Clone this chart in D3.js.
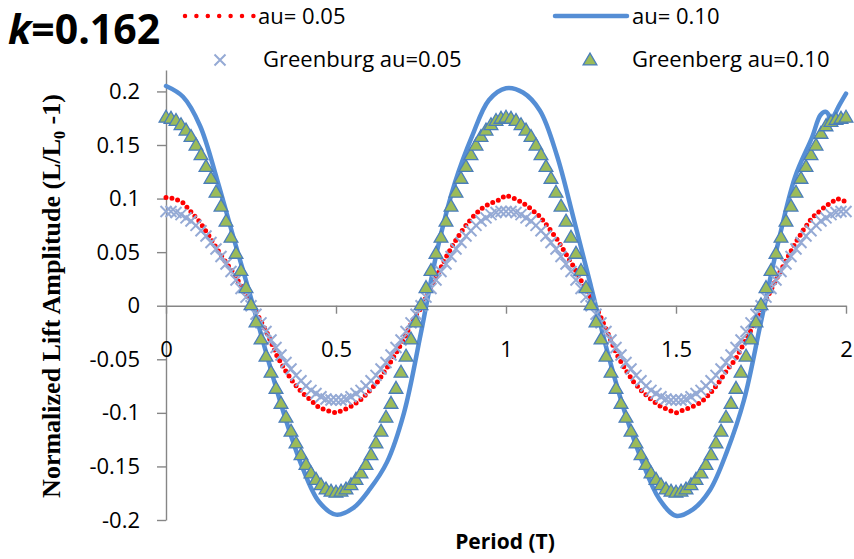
<!DOCTYPE html>
<html>
<head>
<meta charset="utf-8">
<script src="https://d3js.org/d3.v7.min.js"></script>
<style>
    body { margin: 0; background: #fff; }
    svg text { font-family: "Open Sans", sans-serif; fill: #000; }
</style>
</head>
<body>
<div id="liftChart"></div>
<script>
// tick values
const xTicks = [0, 0.5, 1, 1.5, 2];
const yTicks = [-0.2, -0.15, -0.1, -0.05, 0, 0.05, 0.1, 0.15, 0.2];

// measured lift, au = 0.05 (red dotted), one value every 0.025 T
const measured05 = [
    0.101, 0.100, 0.096, 0.087, 0.078, 0.066, 0.053, 0.041, 0.030, 0.016,
    0.003, -0.012, -0.027, -0.046, -0.060, -0.072, -0.081, -0.088, -0.095, -0.098,
    -0.100, -0.097, -0.093, -0.087, -0.079, -0.070, -0.058, -0.045, -0.031, -0.014,
    -0.002, 0.015, 0.030, 0.046, 0.060, 0.072, 0.082, 0.090, 0.095, 0.098,
    0.103, 0.100, 0.096, 0.090, 0.083, 0.073, 0.062, 0.049, 0.036, 0.021,
    0.007, -0.008, -0.026, -0.045, -0.059, -0.071, -0.080, -0.087, -0.093, -0.097,
    -0.100, -0.097, -0.094, -0.090, -0.082, -0.072, -0.060, -0.050, -0.035, -0.020,
    -0.005, 0.012, 0.028, 0.043, 0.058, 0.071, 0.082, 0.089, 0.095, 0.100,
    0.097
];

// measured lift, au = 0.10 (blue line)
const measured10T = [
    0, 0.05, 0.1, 0.15, 0.2, 0.25, 0.3, 0.35, 0.4, 0.45,
    0.5, 0.55, 0.6, 0.65, 0.7, 0.75, 0.8, 0.85, 0.9, 0.95,
    1.0, 1.05, 1.1, 1.15, 1.2, 1.25, 1.3, 1.35, 1.4, 1.45,
    1.5, 1.55, 1.6, 1.65, 1.7, 1.75, 1.8, 1.85, 1.9, 1.925,
    1.94, 1.95, 1.945, 1.96, 1.98, 2.0
];
const measured10 = [
    0.205, 0.195, 0.168, 0.118, 0.062, 0.007, -0.050, -0.104, -0.150, -0.183,
    -0.195, -0.189, -0.171, -0.146, -0.100, -0.025, 0.055, 0.115, 0.158, 0.192,
    0.203, 0.199, 0.182, 0.140, 0.080, 0.018, -0.045, -0.100, -0.145, -0.180,
    -0.196, -0.190, -0.172, -0.136, -0.088, -0.015, 0.058, 0.120, 0.157, 0.178,
    0.181, 0.177, 0.170, 0.175, 0.187, 0.198
];

// Greenberg theory, one value every 1/68 T
const greenburg05 = [
    0.088, 0.088, 0.087, 0.085, 0.082, 0.079, 0.075, 0.070, 0.065, 0.059, 0.053, 0.046, 0.039, 0.032, 0.024, 0.016, 0.008,
    0,
    -0.008, -0.016, -0.024, -0.032, -0.039, -0.046, -0.053, -0.059, -0.065, -0.070, -0.075, -0.079, -0.082, -0.085, -0.087, -0.088,
    -0.088,
    -0.088, -0.087, -0.085, -0.082, -0.079, -0.075, -0.070, -0.065, -0.059, -0.053, -0.046, -0.039, -0.032, -0.024, -0.016, -0.008,
    0,
    0.008, 0.016, 0.024, 0.032, 0.039, 0.046, 0.053, 0.059, 0.065, 0.070, 0.075, 0.079, 0.082, 0.085, 0.087, 0.088,
    0.088, 0.088, 0.087, 0.085, 0.082, 0.079, 0.075, 0.070, 0.065, 0.059, 0.053, 0.046, 0.039, 0.032, 0.024, 0.016, 0.008,
    0,
    -0.008, -0.016, -0.024, -0.032, -0.039, -0.046, -0.053, -0.059, -0.065, -0.070, -0.075, -0.079, -0.082, -0.085, -0.087, -0.088,
    -0.088,
    -0.088, -0.087, -0.085, -0.082, -0.079, -0.075, -0.070, -0.065, -0.059, -0.053, -0.046, -0.039, -0.032, -0.024, -0.016, -0.008,
    0,
    0.008, 0.016, 0.024, 0.032, 0.039, 0.046, 0.053, 0.059, 0.065, 0.070, 0.075, 0.079, 0.082, 0.085, 0.087, 0.088,
    0.088
];
const greenberg10 = [
    0.175, 0.174, 0.172, 0.168, 0.163, 0.157, 0.149, 0.140, 0.129, 0.118, 0.105, 0.092, 0.078, 0.063, 0.048, 0.032, 0.016,
    0,
    -0.016, -0.032, -0.048, -0.063, -0.078, -0.092, -0.105, -0.118, -0.129, -0.140, -0.149, -0.157, -0.163, -0.168, -0.172, -0.174,
    -0.175,
    -0.174, -0.172, -0.168, -0.163, -0.157, -0.149, -0.140, -0.129, -0.118, -0.105, -0.092, -0.078, -0.063, -0.048, -0.032, -0.016,
    0,
    0.016, 0.032, 0.048, 0.063, 0.078, 0.092, 0.105, 0.118, 0.129, 0.140, 0.149, 0.157, 0.163, 0.168, 0.172, 0.174,
    0.175, 0.174, 0.172, 0.168, 0.163, 0.157, 0.149, 0.140, 0.129, 0.118, 0.105, 0.092, 0.078, 0.063, 0.048, 0.032, 0.016,
    0,
    -0.016, -0.032, -0.048, -0.063, -0.078, -0.092, -0.105, -0.118, -0.129, -0.140, -0.149, -0.157, -0.163, -0.168, -0.172, -0.174,
    -0.175,
    -0.174, -0.172, -0.168, -0.163, -0.157, -0.149, -0.140, -0.129, -0.118, -0.105, -0.092, -0.078, -0.063, -0.048, -0.032, -0.016,
    0,
    0.016, 0.032, 0.048, 0.063, 0.078, 0.092, 0.105, 0.118, 0.129, 0.140, 0.149, 0.160, 0.167, 0.171, 0.173, 0.174,
    0.175
];

const legendLabels = ["au= 0.05", "au= 0.10", "Greenburg au=0.05", "Greenberg au=0.10"];


class LiftVis {

    constructor(parentElement) {
        this.parentElement = parentElement;
        this.initVis();
    }

    initVis() {
        let vis = this;

        vis.width = 854;
        vis.height = 559;

        vis.svg = d3.select("#" + vis.parentElement).append("svg")
            .attr("width", vis.width)
            .attr("height", vis.height);

        // scales (axis runs a bit above 0.2 like the original)
        vis.x = d3.scaleLinear().domain([0, 2]).range([166, 846]);
        vis.y = d3.scaleLinear().domain([-0.2, 0.22]).range([520, 70]);

        vis.axisColor = "#868686";

        vis.wrangleData();
    }

    wrangleData() {
        let vis = this;

        vis.red = measured05.map((v, i) => ({t: i * 0.025, v: v}));
        vis.blue = measured10.map((v, i) => ({t: measured10T[i], v: v}));
        vis.crosses = greenburg05.map((v, i) => ({t: i / 68, v: v}));
        vis.triangles = greenberg10.map((v, i) => ({t: i / 68, v: v}));

        vis.updateVis();
    }

    updateVis() {
        let vis = this;

        // y axis
        let yAxis = vis.svg.append("g")
            .attr("transform", `translate(${vis.x(0)},0)`)
            .call(d3.axisLeft(vis.y).tickValues(yTicks).tickSize(9).tickSizeOuter(0).tickPadding(17)
                .tickFormat(d => String(+d.toFixed(2))));
        yAxis.select(".domain").attr("stroke", vis.axisColor).attr("stroke-width", 1.4);
        yAxis.selectAll(".tick line").attr("stroke", vis.axisColor).attr("stroke-width", 1.4);
        yAxis.selectAll("text").attr("font-size", "22px").attr("font-family", "Open Sans").attr("fill", "#000");

        // x axis sits on y = 0
        let xAxis = vis.svg.append("g")
            .attr("transform", `translate(0,${vis.y(0)})`)
            .call(d3.axisBottom(vis.x).tickValues(xTicks).tickSize(8).tickSizeOuter(0).tickPadding(28)
                .tickFormat(d => String(d)));
        xAxis.select(".domain").attr("stroke", vis.axisColor).attr("stroke-width", 1.4);
        xAxis.selectAll(".tick line").attr("stroke", vis.axisColor).attr("stroke-width", 1.4);
        xAxis.selectAll("text").attr("font-size", "22px").attr("font-family", "Open Sans").attr("fill", "#000");

        // red dotted measured line
        let redLine = d3.line().x(d => vis.x(d.t)).y(d => vis.y(d.v));
        vis.svg.append("path")
            .datum(vis.red)
            .attr("d", redLine)
            .attr("fill", "none")
            .attr("stroke", "#ff0000")
            .attr("stroke-width", 5)
            .attr("stroke-linecap", "round")
            .attr("stroke-dasharray", "0 6");

        // blue measured line
        let blueLine = d3.line().x(d => vis.x(d.t)).y(d => vis.y(d.v)).curve(d3.curveCatmullRom.alpha(0.5));
        vis.svg.append("path")
            .datum(vis.blue)
            .attr("d", blueLine)
            .attr("fill", "none")
            .attr("stroke", "#558ed5")
            .attr("stroke-width", 4.5)
            .attr("stroke-linejoin", "round")
            .attr("stroke-linecap", "round");

        // Greenburg au=0.05 crosses
        vis.crossPath = "M-5.5,-5.5L5.5,5.5M-5.5,5.5L5.5,-5.5";
        vis.svg.append("g").selectAll("path")
            .data(vis.crosses)
            .enter().append("path")
            .attr("d", vis.crossPath)
            .attr("transform", d => `translate(${vis.x(d.t)},${vis.y(d.v)})`)
            .attr("fill", "none")
            .attr("stroke", "#95aad5")
            .attr("stroke-width", 2);

        // Greenberg au=0.10 triangles
        vis.triangle = d3.symbol(d3.symbolTriangle, 82);
        vis.svg.append("g").selectAll("path")
            .data(vis.triangles)
            .enter().append("path")
            .attr("d", vis.triangle)
            .attr("transform", d => `translate(${vis.x(d.t)},${vis.y(d.v)})`)
            .attr("fill", "#9bbb59")
            .attr("stroke", "#4a7ebb")
            .attr("stroke-width", 1.3);

        // title
        let title = vis.svg.append("text")
            .attr("x", 8)
            .attr("y", 44)
            .attr("font-size", "41px")
            .attr("font-weight", "bold");
        title.append("tspan").attr("font-style", "italic").text("k");
        title.append("tspan").text("=0.162");

        // legend
        let legend = vis.svg.append("g");
        legend.append("line")
            .attr("x1", 185).attr("x2", 254).attr("y1", 16).attr("y2", 16)
            .attr("stroke", "#ff0000").attr("stroke-width", 4.5)
            .attr("stroke-linecap", "round").attr("stroke-dasharray", "0 11.4");
        legend.append("line")
            .attr("x1", 555).attr("x2", 627).attr("y1", 16).attr("y2", 16)
            .attr("stroke", "#558ed5").attr("stroke-width", 4.5).attr("stroke-linecap", "round");
        legend.append("path")
            .attr("d", vis.crossPath)
            .attr("transform", "translate(220,60)")
            .attr("fill", "none").attr("stroke", "#95aad5").attr("stroke-width", 2);
        legend.append("path")
            .attr("d", vis.triangle)
            .attr("transform", "translate(590,61)")
            .attr("fill", "#9bbb59").attr("stroke", "#4a7ebb").attr("stroke-width", 1.3);

        let legendPos = [[258, 24], [632, 24], [263, 67], [632, 67]];
        legend.selectAll("text.legend-label")
            .data(legendLabels)
            .enter().append("text")
            .attr("class", "legend-label")
            .attr("x", (d, i) => legendPos[i][0])
            .attr("y", (d, i) => legendPos[i][1])
            .attr("font-size", "22px")
            .text(d => d);

        // axis titles
        vis.svg.append("text")
            .attr("x", 505)
            .attr("y", 549)
            .attr("text-anchor", "middle")
            .attr("font-size", "21px")
            .attr("font-weight", "bold")
            .text("Period (T)");

        let yTitle = vis.svg.append("text")
            .attr("transform", "translate(60,296) rotate(-90)")
            .attr("text-anchor", "middle")
            .attr("font-size", "26px")
            .attr("font-weight", "bold")
            .style("font-family", "'Liberation Serif', serif");
        yTitle.append("tspan").text("Normalized Lift Amplitude (L/L");
        yTitle.append("tspan").attr("font-size", "16px").attr("dy", 5).text("0");
        yTitle.append("tspan").attr("dy", -5).text(" -1)");
    }
}

new LiftVis("liftChart");
</script>
</body>
</html>
